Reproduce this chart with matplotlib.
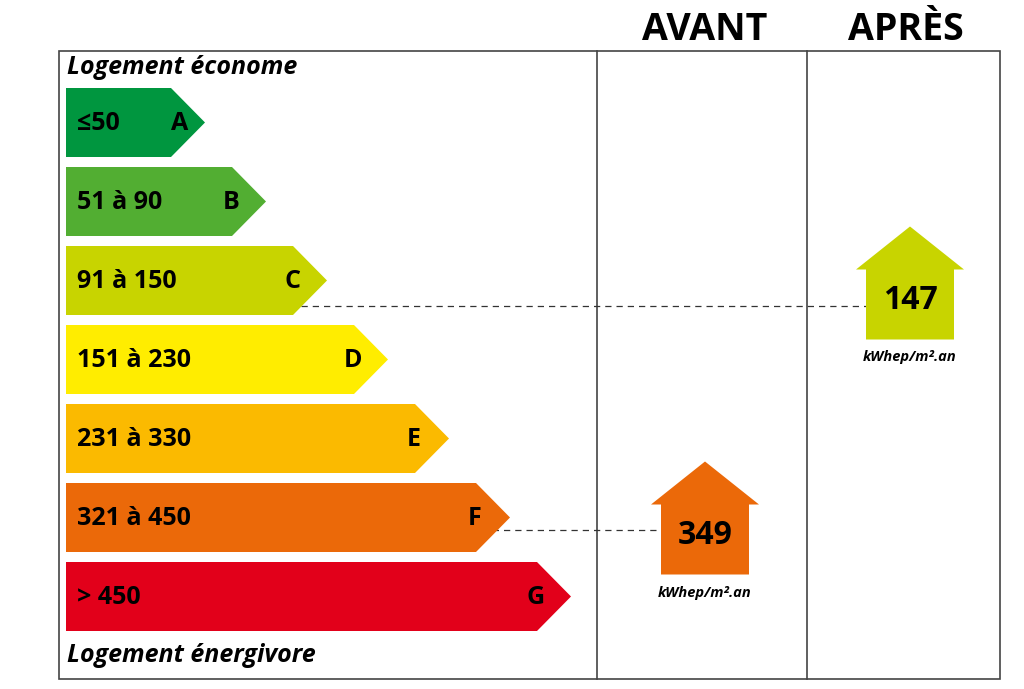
import matplotlib.pyplot as plt
from matplotlib.patches import Polygon, Rectangle

# data
classes = ["A", "B", "C", "D", "E", "F", "G"]
ranges = ["≤50", "51 à 90", "91 à 150", "151 à 230", "231 à 330", "321 à 450", "> 450"]
colors = ["#00963f", "#52ae32", "#c8d400", "#ffed00", "#fbba00", "#eb6909", "#e2001a"]
avant_value = 349
avant_class = "F"
apres_value = 147
apres_class = "C"
unit = "kWhep/m².an"

plt.rcParams["font.family"] = ["Open Sans", "DejaVu Sans"]

fig = plt.figure(figsize=(10.24, 6.89), dpi=100)
ax = fig.add_axes([0, 0, 1, 1])
ax.set_xlim(0, 1024)
ax.set_ylim(689, 0)
ax.axis("off")

# frame and column separators
ax.add_patch(Rectangle((59, 51), 941, 628, fill=False, ec="#444444", lw=1.2))
for x in (597, 807):
    ax.plot([x, x], [51, 679], color="#444444", lw=1.2)

ax.text(705, 30, "AVANT", ha="center", va="center", fontsize=27, fontweight="bold")
ax.text(906, 30, "APRÈS", ha="center", va="center", fontsize=27, fontweight="bold")
ax.text(67, 68, "Logement économe", ha="left", va="center", fontsize=18,
        fontweight="bold", style="italic")
ax.text(67, 655, "Logement énergivore", ha="left", va="center", fontsize=18,
        fontweight="bold", style="italic")

# energy bars
top, pitch, h, depth = 88, 79, 69, 34
left = 66
row_center = {}
for i, (c, r, col) in enumerate(zip(classes, ranges, colors)):
    y0 = top + i * pitch
    tip = 205 + 61 * i
    body = tip - depth
    yc = y0 + h / 2
    row_center[c] = yc
    ax.add_patch(Polygon([(left, y0), (body, y0), (tip, yc), (body, y0 + h), (left, y0 + h)],
                         closed=True, fc=col, ec="none", zorder=3))
    ax.text(77, yc + 1, r, ha="left", va="center", fontsize=18, fontweight="bold", zorder=4)
    ax.text(tip - (25 if i == 0 else 35), yc + 1, c, ha="center", va="center", fontsize=18,
            fontweight="bold", zorder=4)


def house(cx, cy, value, color):
    bw, ew, rh, bh = 88, 108, 43, 70
    yb = cy + bh / 2
    ye = cy - bh / 2
    ax.add_patch(Polygon([(cx - bw / 2, yb), (cx - bw / 2, ye), (cx - ew / 2, ye),
                          (cx, ye - rh), (cx + ew / 2, ye), (cx + bw / 2, ye),
                          (cx + bw / 2, yb)], closed=True, fc=color, ec="none", zorder=3))
    ax.text(cx, cy - 4, str(value), ha="center", va="center", fontsize=23,
            fontweight="bold", zorder=4)
    ax.text(cx, cy + bh / 2 + 18, unit, ha="center", va="center", fontsize=10.5,
            fontweight="bold", style="italic", zorder=4)


for value, cls, cx, dy in [(avant_value, avant_class, 705, 22), (apres_value, apres_class, 910, 24)]:
    i = classes.index(cls)
    yc = row_center[cls]
    ly = yc + (12 if cls == "F" else 25)
    ax.plot([left + 100, cx - 44], [ly, ly], color="#333333", lw=0.9,
            ls=(0, (5, 4)), zorder=2)
    house(cx, yc + dy, value, colors[i])

fig.savefig("out.png", dpi=100, facecolor="white")
